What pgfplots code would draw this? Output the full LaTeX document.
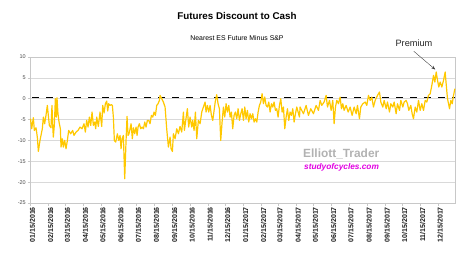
\documentclass[border=0pt]{standalone}
\usepackage{pgfplots}
\pgfplotsset{compat=1.18}
\usetikzlibrary{arrows.meta}
\usepackage{fontspec}
\setmainfont{Liberation Sans}
\definecolor{lineyellow}{RGB}{255,200,0}
\definecolor{gridgray}{RGB}{217,217,217}
\definecolor{framegray}{RGB}{200,200,200}
\definecolor{wmgray}{RGB}{178,178,178}
\definecolor{wmmag}{RGB}{225,0,225}
\begin{document}
\begin{tikzpicture}[x=1pt,y=1pt]
\begin{axis}[
  at={(30.5pt,70pt)}, anchor=south west,
  scale only axis, width=424.5pt, height=146pt,
  xmin=0, xmax=729, ymin=-25, ymax=10,
  ytick={-25,-20,...,10},
  xtick={0,31,60,91,121,152,182,213,244,274,305,335,366,397,425,456,486,517,547,578,609,639,670,700},
  xticklabels={01/15/2016,02/15/2016,03/15/2016,04/15/2016,05/15/2016,06/15/2016,07/15/2016,08/15/2016,09/15/2016,10/15/2016,11/15/2016,12/15/2016,01/15/2017,02/15/2017,03/15/2017,04/15/2017,05/15/2017,06/15/2017,07/15/2017,08/15/2017,09/15/2017,10/15/2017,11/15/2017,12/15/2017},
  xticklabel style={rotate=90, anchor=east, font=\fontsize{7}{8}\selectfont\bfseries, text=black!90, inner sep=1pt, yshift=-2pt},
  yticklabel style={font=\fontsize{5.5}{6}\selectfont, text=black!70, inner sep=1.5pt},
  /pgf/number format/assume math mode=true,
  xtick pos=bottom, ytick pos=left,
  tick align=outside, major tick length=3pt,
  tick style={framegray, line width=0.5pt},
  axis line style={framegray, line width=0.6pt},
  ymajorgrids, grid style={gridgray, line width=0.6pt},
  clip=false,
]
\addplot[black, line width=1.4pt, dash pattern=on 7pt off 7pt] coordinates {(3,0.3) (729,0.3)};
\addplot[lineyellow, line width=1.2pt, line join=round] coordinates {
(0,-4.8) (2.0,-7.2) (4.9,-4.56) (6.6,-7.6) (9.5,-6.96) (11.7,-9.2) (13.5,-12.64) (16.3,-10) (18.6,-8.4) (20.3,-7.2) (22.1,-4.4) (24.3,-6) (26.6,-4) (28.9,-1.6) (30.6,-4) (32.4,-6.4) (33.5,-6.64) (35.2,-6.96) (36.9,-1.6) (38.1,-6.4) (39.2,-9.2) (40.9,-6.4) (42.7,0) (44.4,-4.4) (45.5,0.24) (47.2,-3.6) (49.0,-5.6) (51.3,-7.2) (52.4,-11.6) (54.7,-9.6) (56.4,-11.6) (58.7,-10) (61.0,-12) (63.3,-10) (65.6,-7.6) (69.0,-8.4) (72.4,-7.6) (74.7,-8.8) (78.2,-8) (81.6,-7.6) (85.0,-6.8) (88.5,-7.2) (91.9,-6) (94.2,-8) (96.5,-5.2) (98.8,-6.8) (101.1,-4.4) (103.4,-6.4) (105.7,-3.2) (108.0,-6.4) (110.2,-5.6) (112.0,-7.2) (113.7,-4.4) (116.5,-6.64) (119.4,-3.2) (122.3,-6.64) (124.0,-1.6) (126.3,-3.44) (128.6,-1.2) (130.9,-0.56) (132.6,-2.96) (134.3,-1.2) (136.6,-1.6) (138.9,-1.44) (140.6,-1.6) (142.3,-4.4) (144.0,-10) (146.3,-10.4) (149.2,-8.4) (151.5,-10) (153.8,-8.8) (155.5,-12) (157.2,-9.6) (159.5,-8.8) (161.8,-19.2) (164.1,-10) (165.8,-4.24) (167.5,-8.8) (169.2,-8.4) (171.0,-7.2) (172.7,-6) (174.9,-9.6) (176.7,-6.96) (179.0,-8.4) (181.3,-6.8) (183.0,-8.8) (184.7,-6.8) (187.0,-6) (189.3,-7.2) (191.6,-6.8) (193.9,-7.2) (196.2,-5.6) (198.4,-6.8) (200.7,-5.2) (203.0,-5.2) (205.3,-6) (207.6,-4) (209.9,-4.4) (212.2,-3.2) (214.5,-4) (216.8,-1.6) (219.1,-1.2) (221.4,-0.4)
(222.5,0.8) (225.3,0) (228.2,-0.8) (231.1,-2) (233.9,-7.2) (236.8,-11.6) (239.7,-9.2) (241.4,-12) (243.7,-12.64) (245.4,-8.4) (248.3,-9.6) (251.1,-7.2) (254.0,-8.4) (256.8,-6.64) (259.7,-8) (262.6,-3.2) (264.3,-7.6) (266.6,-5.2) (269.4,-2.4) (271.7,-6.8) (274.0,-4.4) (276.9,-6.8) (278.6,-5.2) (280.9,-7.6) (283.2,-3.2) (285.5,-9.6) (288.3,-5.2) (291.2,-6) (294.1,-3.2) (296.9,-2) (299.8,-0.8) (301.5,-3.2) (303.8,-1.6) (306.1,-3.2) (308.4,-1.6) (310.7,-4) (313.0,-5.2) (315.3,-2.8) (317.6,-0.4) (319.8,0.96) (322.1,-1.2) (324.4,-2.4) (326.7,-10) (329.0,-5.6) (331.3,-2) (333.6,-4.4) (335.9,-1.2) (338.2,-3.2) (340.5,-1.6) (342.8,-4.4) (345.0,-3.2) (347.3,-7.2) (349.6,-4) (351.9,-3.2) (354.2,-4.8) (356.5,-2.4) (358.8,-5.2) (361.1,-3.6) (363.4,-2.4) (365.7,-5.2) (368.0,-2) (370.2,-4.8) (372.5,-2.8) (374.8,-5.6) (377.1,-3.6) (379.4,-4.8) (381.7,-3.6) (384.0,-5.6) (386.3,-4.8) (388.6,-5.6) (390.9,-3.2) (393.1,-1.6) (395.4,-0.8) (397.7,1.2) (400.0,-1.2) (402.3,0.4) (404.6,-1.6) (406.9,-2) (409.2,-0.8) (411.5,-3.2) (413.8,-1.2) (416.1,-2) (418.3,-0.8) (420.6,-2.8) (422.9,-2.4) (425.2,-4.4) (427.5,-1.6) (429.8,0) (432.1,-3.2) (434.4,-2) (436.7,-7.2) (439.0,-4.4) (441.3,-2.4) (443.5,-5.2) (445.8,-3.2) (448.1,-4) (450.4,-2.4) (452.7,-5.6) (455.0,-3.6) (457.3,-2) (459.6,-3.2) (461.9,-4.4)
(463.0,-2) (468.7,-3.6) (473.3,-1.6) (477.3,-4) (481.3,-2.4) (485.9,-3.6) (490.5,-1.6) (494.5,-2.8) (497.4,-0.4) (500.2,-1.6) (504.2,-0.8) (507.7,0.8) (510.0,-2) (513.4,-0.4) (516.3,-2.8) (519.1,-0.4) (521.4,-6) (523.7,-2) (526.0,-0.4) (528.9,-1.2) (531.7,0.4) (534.0,-2.4) (536.3,-1.2) (538.6,-2.8) (542.0,-1.6) (545.5,-3.2) (548.9,-2) (552.3,-4) (555.8,-2) (559.2,-3.6) (561.5,-1.6) (564.9,-4.8) (567.2,-2) (570.7,-1.2) (574.7,-0.8) (577.5,-1.6) (580.4,0.8) (583.3,-0.4) (586.1,0.4) (589.0,-2) (591.9,-0.4) (595.9,0.8) (599.3,1.6) (601.6,-0.8) (605.0,-2) (607.3,-0.4) (610.8,-2.4) (613.0,-0.8) (616.5,-3.2) (618.8,-1.2) (622.2,-2) (624.5,-0.8) (627.9,-3.6) (630.2,-1.2) (633.7,-2.8) (636.0,-0.4) (639.4,-2) (641.7,-0.8) (645.1,-0.4) (647.4,-1.2) (649.7,-2.8) (653.1,-1.6) (655.4,-3.6) (657.7,-4.8) (660.6,-2) (663.4,-3.2) (666.3,-0.4) (669.2,-2.8) (672.0,-1.2) (674.9,-2.8) (677.8,-0.4) (680.6,-0.8) (683.5,0.8) (686.4,1.2) (689.2,3.2) (692.1,5.6) (694.4,4) (696.7,6.4) (699.0,4.4) (701.2,2.8) (703.5,4) (706.4,2.8) (709.3,4.4) (712.1,6.4) (713.8,3.6) (716.1,0) (717.9,-1.2) (719.6,-2.4) (721.9,-0.4) (724.2,-1.2) (726.5,0.8) (728.8,2.4)
};
\draw[-{Stealth[length=4pt,width=3pt]}, black!75, line width=0.4pt] (axis cs:658,11.4) -- (axis cs:695,7.0);
\end{axis}
\node[font=\fontsize{9.8}{11}\selectfont\bfseries] at (237pt,257pt) {Futures Discount to Cash};
\node[font=\fontsize{6.9}{8}\selectfont] at (237pt,235pt) {Nearest ES Future Minus S\&P};
\node[font=\fontsize{9.2}{10}\selectfont, text=black!85] at (414pt,230pt) {Premium};
\node[font=\fontsize{11.9}{13}\selectfont\bfseries, text=wmgray, anchor=west, inner sep=0pt] at (303pt,119pt) {Elliott\_Trader};
\node[font=\fontsize{8.3}{9}\selectfont\bfseries\itshape, text=wmmag, anchor=west, inner sep=0pt] at (304pt,106pt) {studyofcycles.com};
\pgfresetboundingbox
\path[use as bounding box] (0,0) rectangle (474pt,273pt);
\end{tikzpicture}
\end{document}
